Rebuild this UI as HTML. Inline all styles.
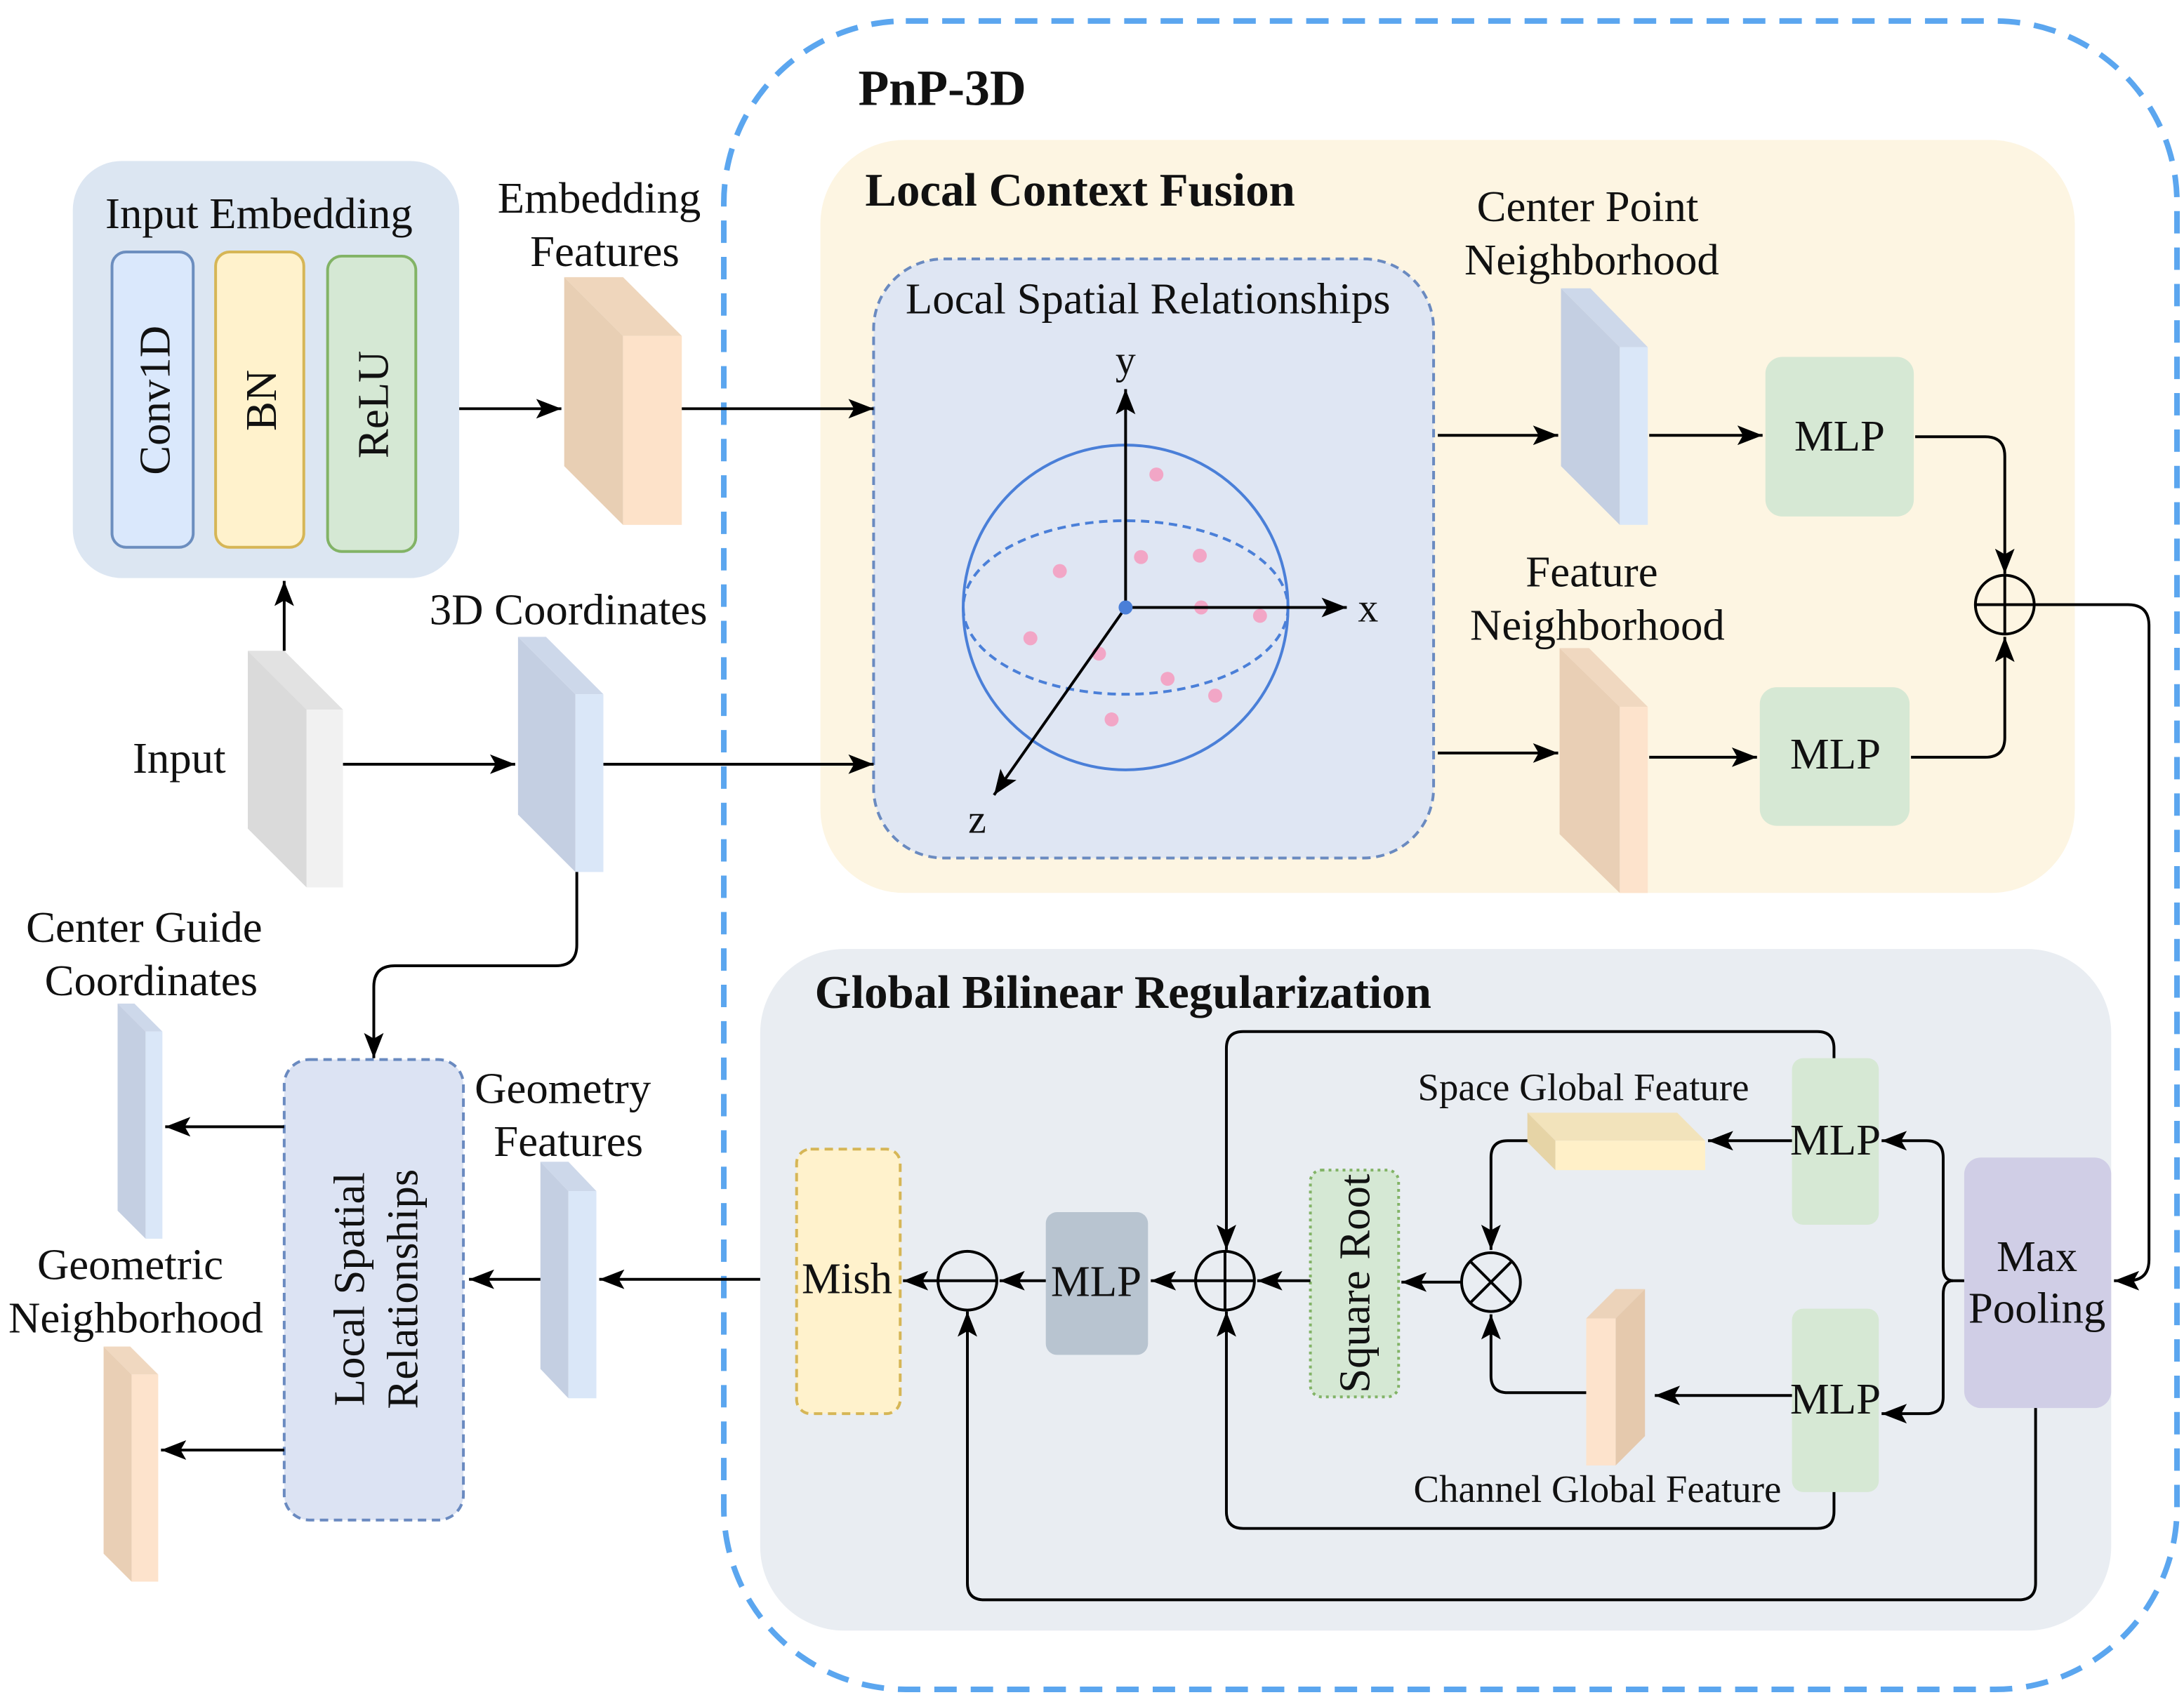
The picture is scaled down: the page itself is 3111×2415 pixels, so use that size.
<!DOCTYPE html>
<html><head><meta charset="utf-8"><style>
html,body{margin:0;padding:0;background:#fff;}
svg{display:block;}
text{font-family:"Liberation Serif",serif;fill:#111;}
</style></head><body>
<svg width="3111" height="2415" viewBox="0 0 1560 1211" xmlns="http://www.w3.org/2000/svg">
<defs>
<marker id="b" markerWidth="20" markerHeight="14" refX="18" refY="7" orient="auto" markerUnits="userSpaceOnUse"><path d="M0,0 L18,7 L0,14 L4,7 z" fill="#000"/></marker>
</defs>
<rect width="1560" height="1211" fill="#fff"/>
<rect x="517" y="15" width="1038" height="1192" rx="130" fill="none" stroke="#5ba6ef" stroke-width="4" stroke-dasharray="16,10"/>
<text x="613" y="75" font-size="36" font-weight="bold">PnP-3D</text>

<rect x="586" y="100" width="896" height="538" rx="60" fill="#fdf5e2"/>
<text x="618" y="147" font-size="33.5" font-weight="bold">Local Context Fusion</text>
<rect x="624" y="185" width="400" height="428" rx="50" fill="#dfe6f3" stroke="#6a8ac0" stroke-width="2" stroke-dasharray="6,4"/>
<text x="820" y="224" font-size="31.5" text-anchor="middle">Local Spatial Relationships</text>
<circle cx="804" cy="434" r="116" fill="none" stroke="#4a7fd8" stroke-width="2"/>
<ellipse cx="804" cy="434" rx="116" ry="62" fill="none" stroke="#4a7fd8" stroke-width="2" stroke-dasharray="6,4"/>
<g fill="#f2a6c6">
<circle cx="826" cy="339" r="5"/><circle cx="757" cy="408" r="5"/><circle cx="815" cy="398" r="5"/><circle cx="857" cy="397" r="5"/><circle cx="858" cy="434" r="5"/><circle cx="900" cy="440" r="5"/><circle cx="736" cy="456" r="5"/><circle cx="785" cy="467" r="5"/><circle cx="834" cy="485" r="5"/><circle cx="868" cy="497" r="5"/><circle cx="794" cy="514" r="5"/>
</g>
<g stroke="#000" stroke-width="2" fill="none">
<line x1="804" y1="434" x2="804" y2="278" marker-end="url(#b)"/>
<line x1="804" y1="434" x2="962" y2="434" marker-end="url(#b)"/>
<line x1="804" y1="434" x2="710" y2="568" marker-end="url(#b)"/>
</g>
<circle cx="804" cy="434" r="5" fill="#4a7fd8"/>
<text x="804" y="267" font-size="29" text-anchor="middle">y</text>
<text x="970" y="444" font-size="29">x</text>
<text x="698" y="595" font-size="29" text-anchor="middle">z</text>

<text x="1134" y="158" font-size="31.5" text-anchor="middle">Center Point</text>
<text x="1137" y="196" font-size="31.5" text-anchor="middle">Neighborhood</text>
<polygon points="1115,206 1157,248 1157,375 1115,333" fill="#c4cfe2"/><polygon points="1115,206 1136,206 1177,248 1157,248" fill="#cdd8ea"/><rect x="1157" y="248" width="20" height="127" fill="#dae7f8"/>
<text x="1137" y="419" font-size="31.5" text-anchor="middle">Feature</text>
<text x="1141" y="457" font-size="31.5" text-anchor="middle">Neighborhood</text>
<polygon points="1114,463 1157,505 1157,638 1114,596" fill="#e9cfb5"/><polygon points="1114,463 1135,463 1177,505 1157,505" fill="#f0d8c0"/><rect x="1157" y="505" width="20" height="133" fill="#fde3cc"/>

<rect x="1261" y="255" width="106" height="114" rx="12" fill="#d6e8d4"/>
<text x="1314" y="322" font-size="31.5" text-anchor="middle">MLP</text>
<rect x="1257" y="491" width="107" height="99" rx="12" fill="#d6e8d4"/>
<text x="1311" y="549" font-size="31.5" text-anchor="middle">MLP</text>
<circle cx="1432" cy="432" r="21" fill="none" stroke="#000" stroke-width="2"/>
<line x1="1411" y1="432" x2="1453" y2="432" stroke="#000" stroke-width="2"/><line x1="1432" y1="411" x2="1432" y2="453" stroke="#000" stroke-width="2"/>

<g stroke="#000" stroke-width="2" fill="none">
<line x1="1027" y1="311" x2="1113" y2="311" marker-end="url(#b)"/>
<line x1="1178" y1="311" x2="1259" y2="311" marker-end="url(#b)"/>
<line x1="1027" y1="538" x2="1113" y2="538" marker-end="url(#b)"/>
<line x1="1178" y1="541" x2="1255" y2="541" marker-end="url(#b)"/>
<path d="M1368,312 H1418 Q1432,312 1432,326 V410" marker-end="url(#b)"/>
<path d="M1365,541 H1418 Q1432,541 1432,527 V455" marker-end="url(#b)"/>
<path d="M1453,432 H1520 Q1535,432 1535,447 V900 Q1535,915 1520,915 H1510" marker-end="url(#b)"/>
</g>

<rect x="52" y="115" width="276" height="298" rx="35" fill="#dce6f2"/>
<text x="185" y="163" font-size="31.5" text-anchor="middle">Input Embedding</text>
<rect x="80" y="180" width="58" height="211" rx="10" fill="#dae8fc" stroke="#6c8ebf" stroke-width="2"/>
<rect x="154" y="180" width="63" height="211" rx="10" fill="#fff2cc" stroke="#d6b656" stroke-width="2"/>
<rect x="234" y="183" width="63" height="211" rx="10" fill="#d5e8d4" stroke="#82b366" stroke-width="2"/>
<text transform="translate(121,286) rotate(-90)" font-size="31.5" text-anchor="middle">Conv1D</text>
<text transform="translate(197,286) rotate(-90)" font-size="31.5" text-anchor="middle">BN</text>
<text transform="translate(277,289) rotate(-90)" font-size="31.5" text-anchor="middle">ReLU</text>

<text x="428" y="152" font-size="31.5" text-anchor="middle">Embedding</text>
<text x="432" y="190" font-size="31.5" text-anchor="middle">Features</text>
<polygon points="403,198 445,240 445,375 403,333" fill="#e8cfb4"/><polygon points="403,198 445,198 487,240 445,240" fill="#efd6bc"/><rect x="445" y="240" width="42" height="135" fill="#fde2c9"/>

<text x="128" y="552" font-size="31.5" text-anchor="middle">Input</text>
<polygon points="177,465 219,507 219,634 177,592" fill="#dadada"/><polygon points="177,465 203,465 245,507 219,507" fill="#e2e2e2"/><rect x="219" y="507" width="26" height="127" fill="#f1f1f1"/>
<text x="406" y="446" font-size="31.5" text-anchor="middle">3D Coordinates</text>
<polygon points="370,455 411,496 411,623 370,582" fill="#c4cfe2"/><polygon points="370,455 390,455 431,496 411,496" fill="#cdd8ea"/><rect x="411" y="496" width="20" height="127" fill="#dae7f8"/>

<text x="103" y="673" font-size="31.5" text-anchor="middle">Center Guide</text>
<text x="108" y="711" font-size="31.5" text-anchor="middle">Coordinates</text>
<polygon points="84,717 104,737 104,885 84,865" fill="#c4cfe2"/><polygon points="84,717 96,717 116,737 104,737" fill="#cdd8ea"/><rect x="104" y="737" width="12" height="148" fill="#dae7f8"/>
<text x="93" y="914" font-size="31.5" text-anchor="middle">Geometric</text>
<text x="97" y="952" font-size="31.5" text-anchor="middle">Neighborhood</text>
<polygon points="74,962 94,982 94,1130 74,1110" fill="#e9cfb5"/><polygon points="74,962 93,962 113,982 94,982" fill="#f0d8c0"/><rect x="94" y="982" width="19" height="148" fill="#fde3cc"/>
<rect x="203" y="757" width="128" height="329" rx="18" fill="#dce3f3" stroke="#6a8ac0" stroke-width="2" stroke-dasharray="6,4"/>
<text transform="translate(260,921) rotate(-90)" font-size="31.5" text-anchor="middle">Local Spatial</text>
<text transform="translate(298,921) rotate(-90)" font-size="31.5" text-anchor="middle">Relationships</text>
<text x="402" y="788" font-size="31.5" text-anchor="middle">Geometry</text>
<text x="406" y="826" font-size="31.5" text-anchor="middle">Features</text>
<polygon points="386,830 406,851 406,999 386,978" fill="#c4cfe2"/><polygon points="386,830 406,830 426,851 406,851" fill="#cdd8ea"/><rect x="406" y="851" width="20" height="148" fill="#dae7f8"/>

<g stroke="#000" stroke-width="2" fill="none">
<line x1="203" y1="465" x2="203" y2="415" marker-end="url(#b)"/>
<line x1="328" y1="292" x2="401" y2="292" marker-end="url(#b)"/>
<line x1="487" y1="292" x2="624" y2="292" marker-end="url(#b)"/>
<line x1="245" y1="546" x2="368" y2="546" marker-end="url(#b)"/>
<line x1="431" y1="546" x2="624" y2="546" marker-end="url(#b)"/>
<path d="M412,623 V675 Q412,690 397,690 H282 Q267,690 267,705 V756" marker-end="url(#b)"/>
<line x1="203" y1="805" x2="118" y2="805" marker-end="url(#b)"/>
<line x1="203" y1="1036" x2="115" y2="1036" marker-end="url(#b)"/>
<line x1="386" y1="914" x2="335" y2="914" marker-end="url(#b)"/>
<line x1="568" y1="914" x2="428" y2="914" marker-end="url(#b)"/>
</g>

<rect x="543" y="678" width="965" height="487" rx="60" fill="#e9edf2"/>
<text x="582" y="720" font-size="33.5" font-weight="bold">Global Bilinear Regularization</text>
<rect x="569" y="821" width="74" height="189" rx="10" fill="#fff2cc" stroke="#d6b656" stroke-width="2" stroke-dasharray="6,4"/>
<text x="605" y="924" font-size="31.5" text-anchor="middle">Mish</text>
<rect x="747" y="866" width="73" height="102" rx="8" fill="#b8c4d0"/>
<text x="783" y="926" font-size="31.5" text-anchor="middle">MLP</text>
<rect x="936" y="836" width="63" height="162" rx="8" fill="#d5e8d4" stroke="#82b366" stroke-width="2" stroke-dasharray="2,3"/>
<text transform="translate(978,917) rotate(-90)" font-size="31.5" text-anchor="middle">Square Root</text>
<rect x="1280" y="756" width="62" height="119" rx="8" fill="#d6e8d4"/>
<text x="1311" y="825" font-size="31.5" text-anchor="middle">MLP</text>
<rect x="1280" y="935" width="62" height="131" rx="8" fill="#d6e8d4"/>
<text x="1311" y="1010" font-size="31.5" text-anchor="middle">MLP</text>
<rect x="1403" y="827" width="105" height="179" rx="12" fill="#d0cee6"/>
<text x="1455" y="908" font-size="31.5" text-anchor="middle">Max</text>
<text x="1455" y="945" font-size="31.5" text-anchor="middle">Pooling</text>
<text x="1131" y="786" font-size="27.5" text-anchor="middle">Space Global Feature</text>
<polygon points="1091,795 1198,795 1218,815 1111,815" fill="#f2e3bb"/><polygon points="1091,795 1111,815 1111,836 1091,816" fill="#e6d4a6"/><rect x="1111" y="815" width="107" height="21" fill="#fff0c8"/>
<text x="1141" y="1073" font-size="27.5" text-anchor="middle">Channel Global Feature</text>
<polygon points="1133,942 1154,921 1175,921 1154,942" fill="#ecd3ba"/><polygon points="1154,942 1175,921 1175,1026 1154,1047" fill="#e5c9ad"/><rect x="1133" y="942" width="21" height="105" fill="#fde3cc"/>

<g stroke="#000" stroke-width="2" fill="none">
<circle cx="691" cy="915" r="21"/><line x1="670" y1="915" x2="712" y2="915"/>
<circle cx="875" cy="915" r="21"/><line x1="854" y1="915" x2="896" y2="915"/><line x1="875" y1="894" x2="875" y2="936"/>
<circle cx="1065" cy="916" r="21"/><line x1="1050" y1="901" x2="1080" y2="931"/><line x1="1080" y1="901" x2="1050" y2="931"/>
<line x1="670" y1="915" x2="645" y2="915" marker-end="url(#b)"/>
<line x1="747" y1="915" x2="714" y2="915" marker-end="url(#b)"/>
<line x1="854" y1="915" x2="822" y2="915" marker-end="url(#b)"/>
<line x1="936" y1="915" x2="898" y2="915" marker-end="url(#b)"/>
<line x1="1044" y1="916" x2="1001" y2="916" marker-end="url(#b)"/>
<line x1="1280" y1="815" x2="1220" y2="815" marker-end="url(#b)"/>
<path d="M1091,815 H1077 Q1065,815 1065,827 V893" marker-end="url(#b)"/>
<line x1="1280" y1="997" x2="1182" y2="997" marker-end="url(#b)"/>
<path d="M1133,995 H1077 Q1065,995 1065,983 V939" marker-end="url(#b)"/>
<path d="M1403,915 H1395 Q1388,915 1388,905 V827 Q1388,815 1376,815 H1344" marker-end="url(#b)"/>
<path d="M1395,915 Q1388,915 1388,925 V998 Q1388,1010 1376,1010 H1344" marker-end="url(#b)"/>
<path d="M1310,756 V749 Q1310,737 1298,737 H888 Q876,737 876,749 V893" marker-end="url(#b)"/>
<path d="M1310,1066 V1080 Q1310,1092 1298,1092 H888 Q876,1092 876,1080 V937" marker-end="url(#b)"/>
<path d="M1454,1006 V1131 Q1454,1143 1442,1143 H703 Q691,1143 691,1131 V937" marker-end="url(#b)"/>
</g>
</svg>
</body></html>
